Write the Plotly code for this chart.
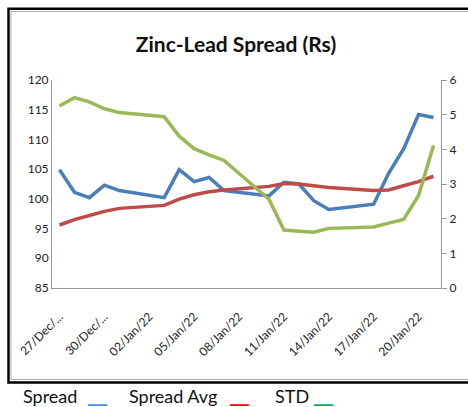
import plotly.graph_objects as go

dates = ["2021-12-27", "2021-12-28", "2021-12-29", "2021-12-30", "2021-12-31",
         "2022-01-03", "2022-01-04", "2022-01-05", "2022-01-06", "2022-01-07",
         "2022-01-10", "2022-01-11", "2022-01-12", "2022-01-13", "2022-01-14",
         "2022-01-17", "2022-01-18", "2022-01-19", "2022-01-20", "2022-01-21"]

spread = [104.9, 101.1, 100.2, 102.3, 101.4,
          100.2, 104.9, 102.9, 103.6, 101.4,
          100.5, 102.8, 102.5, 99.7, 98.2,
          99.1, 104.3, 108.4, 114.2, 113.7]

spread_avg = [95.6, 96.5, 97.2, 97.9, 98.4,
              98.9, 99.95, 100.7, 101.2, 101.5,
              102.1, 102.6, 102.5, 102.2, 101.9,
              101.4, 101.5, 102.2, 102.9, 103.8]

std = [5.25, 5.49, 5.37, 5.17, 5.06,
       4.94, 4.38, 4.02, 3.84, 3.68,
       2.56, 1.67, 1.64, 1.61, 1.72,
       1.76, 1.87, 1.98, 2.67, 4.12]

tick_dates = ["2021-12-27", "2021-12-30", "2022-01-02", "2022-01-05", "2022-01-08",
              "2022-01-11", "2022-01-14", "2022-01-17", "2022-01-20"]
tick_text = ["27/Dec/...", "30/Dec/...", "02/Jan/22", "05/Jan/22", "08/Jan/22",
             "11/Jan/22", "14/Jan/22", "17/Jan/22", "20/Jan/22"]

W, H = 468, 407
L, R, T, B = 52, 27, 80, 119
pw, ph = W - L - R, H - T - B

def px(x):
    return (x - L) / pw

def py(y):
    return (H - B - y) / ph

FONT = "Lato, Calibri, sans-serif"

fig = go.Figure()
fig.add_trace(go.Scatter(x=dates, y=spread, mode="lines", name="Spread",
                         line=dict(color="#4A7EBB", width=3.5)))
fig.add_trace(go.Scatter(x=dates, y=spread_avg, mode="lines", name="Spread Avg",
                         line=dict(color="#BE4B48", width=3.5)))
fig.add_trace(go.Scatter(x=dates, y=std, mode="lines", name="STD", yaxis="y2",
                         line=dict(color="#98B954", width=3.5)))

fig.update_layout(
    width=W, height=H,
    margin=dict(l=L, r=R, t=T, b=B),
    paper_bgcolor="white", plot_bgcolor="white",
    showlegend=False,
    font=dict(family=FONT, size=12, color="#222"),
    title=dict(text="<b>Zinc-Lead Spread (Rs)</b>", x=236 / W, xanchor="center",
               y=1 - 45 / H, yanchor="middle", xref="container", yref="container",
               font=dict(family=FONT, size=21, color="#111")),
    xaxis=dict(type="date", range=["2021-12-26 12:00", "2022-01-21 12:00"],
               tickmode="array", tickvals=tick_dates, ticktext=tick_text,
               tickangle=-45, showgrid=False, zeroline=False,
               showline=True, linecolor="#999", linewidth=1, ticks="",
               ticklabelstandoff=16,
               tickfont=dict(size=12, color="#222")),
    yaxis=dict(range=[85, 120], dtick=5, showgrid=False, zeroline=False,
               showline=True, linecolor="#999", linewidth=1, ticks="",
               tickfont=dict(size=12, color="#222")),
    yaxis2=dict(range=[0, 6], dtick=1, overlaying="y", side="right",
                showgrid=False, zeroline=False, showline=True, linecolor="#999",
                linewidth=1, ticks="outside", ticklen=5, tickcolor="#999",
                tickfont=dict(size=12, color="#222")),
)

# chart frame (outer black, inner gray)
fig.add_shape(type="rect", xref="paper", yref="paper",
              x0=px(8.5), x1=px(472), y0=py(382.5), y1=py(8.7),
              line=dict(color="black", width=2.5), layer="below")
fig.add_shape(type="rect", xref="paper", yref="paper",
              x0=px(11), x1=px(472), y0=py(379.5), y1=py(11.5),
              line=dict(color="#b0b0b0", width=1), layer="below")

# legend as text below the chart
legend_text = [("Spread", 21), ("Spread Avg", 127), ("STD", 273)]
legend_marks = [("#4A86E8", 86), ("#FF0000", 228), ("#00B050", 312)]
for txt, xpos in legend_text:
    fig.add_annotation(text=txt, xref="paper", yref="paper", x=px(xpos), y=py(396),
                       xanchor="left", yanchor="middle", showarrow=False,
                       font=dict(family=FONT, size=18, color="#111"))
for col, xpos in legend_marks:
    fig.add_annotation(text="<b>__</b>", xref="paper", yref="paper", x=px(xpos), y=py(394),
                       xanchor="left", yanchor="middle", showarrow=False,
                       font=dict(family="DejaVu Sans", size=19, color=col))

fig.write_html("out.html", config={"displayModeBar": False},
               post_script="document.body.style.margin='0';"
                           "document.body.style.overflow='hidden';")
